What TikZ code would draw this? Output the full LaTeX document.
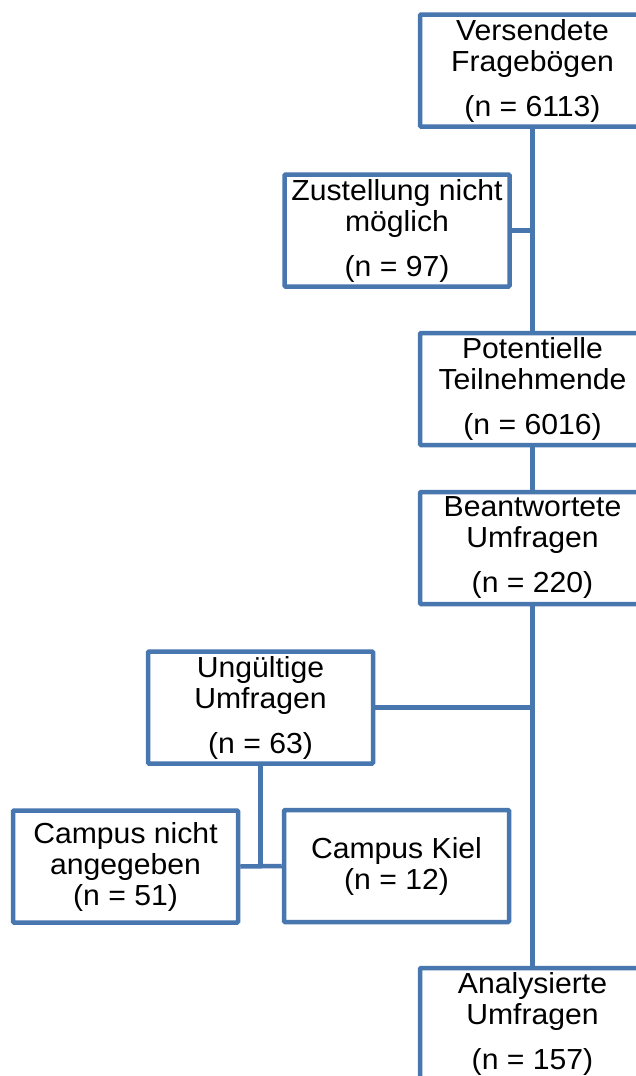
\documentclass[tikz,border=0pt]{standalone}
\usepackage{fontspec}
\setmainfont{Liberation Sans}[FakeStretch=1.04]
\definecolor{boxblue}{RGB}{72,118,175}
\begin{document}
\begin{tikzpicture}[x=1pt,y=-1pt,
  box/.style={draw=boxblue, line width=4.5pt, fill=white, rounded corners=1pt,
    minimum width=225pt, minimum height=112pt, inner sep=0pt, align=center,
    font=\fontsize{29}{31}\selectfont},
  conn/.style={draw=boxblue, line width=4.5pt}]
\useasboundingbox (0,0) rectangle (635,1076);
\node[box] (vers) at (532.5,70.5) {Versendete\\Fragebögen\\[14pt](n = 6113)};
\node[box] (zust) at (397,230.5) {Zustellung nicht\\möglich\\[14pt](n = 97)};
\node[box] (pot) at (532.5,389) {Potentielle\\Teilnehmende\\[14pt](n = 6016)};
\node[box] (bean) at (532.5,548) {Beantwortete\\Umfragen\\[14pt](n = 220)};
\node[box] (ung) at (260.5,707.5) {Ungültige\\Umfragen\\[14pt](n = 63)};
\node[box] (cn) at (125.5,866.5) {Campus nicht\\angegeben\\(n = 51)};
\node[box] (ck) at (396.5,866) {Campus Kiel\\(n = 12)};
\node[box] (ana) at (532.5,1024) {Analysierte\\Umfragen\\[14pt](n = 157)};
\draw[conn] (vers.south) -- (pot.north);
\draw[conn] (zust.east) -- (zust.east -| vers.south);
\draw[conn] (pot.south) -- (bean.north);
\draw[conn] (bean.south) -- (ana.north);
\draw[conn] (ung.east) -- (ung.east -| bean.south);
\draw[conn] (ung.south) -- (ung.south |- cn.east);
\draw[conn] (cn.east) -- (ck.west);
\end{tikzpicture}
\end{document}
